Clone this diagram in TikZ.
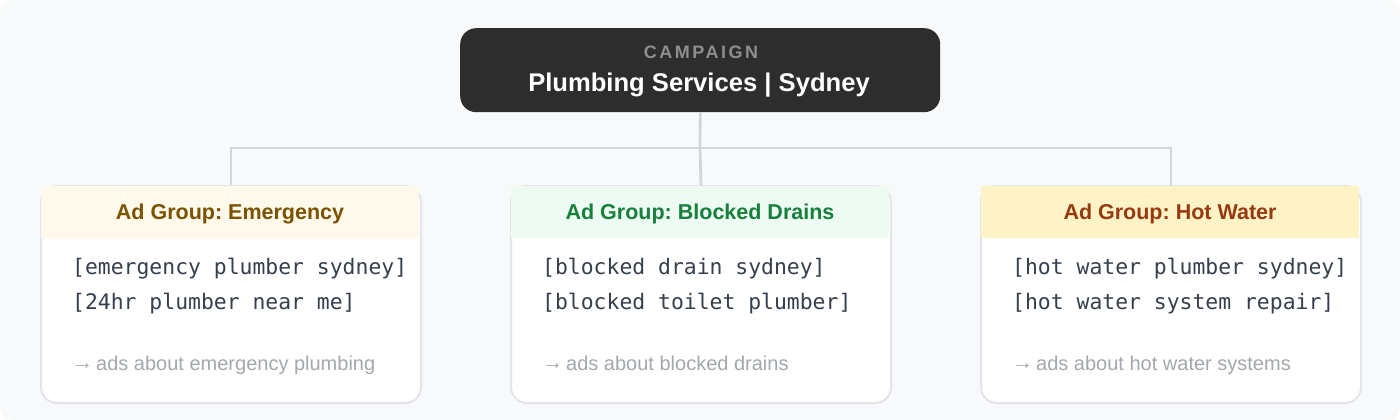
\documentclass[tikz,border=0pt]{standalone}
\usepackage{fontspec}
\setmainfont{Liberation Sans}
\newfontfamily\monof{DejaVu Sans Mono}
\newfontfamily\spacedf[LetterSpace=14]{Liberation Sans}
\frenchspacing
\definecolor{bgc}{HTML}{F8F9FB}
\definecolor{campfill}{HTML}{2D2D2D}
\definecolor{campgray}{HTML}{8E8E8E}
\definecolor{linec}{HTML}{D3D5DA}
\definecolor{cardborder}{HTML}{E3E5E9}
\definecolor{kwc}{HTML}{363F4D}
\definecolor{footc}{HTML}{A3A7AE}
\definecolor{hAfill}{HTML}{FFF9EC}
\definecolor{hAtext}{HTML}{7A5200}
\definecolor{hBfill}{HTML}{EEFBF2}
\definecolor{hBtext}{HTML}{17803D}
\definecolor{hCfill}{HTML}{FEF3C7}
\definecolor{hCtext}{HTML}{983A10}
\tikzset{
  cardbox/.style={draw=cardborder, line width=2pt, fill=white, rounded corners=16pt,
    minimum width=380pt, minimum height=217pt, inner sep=0pt, anchor=north west},
  conn/.style={draw=linec, line width=2.8pt},
  headtxt/.style={font=\fontsize{21.5}{25}\selectfont\bfseries, anchor=center},
  kw/.style={font=\monof\fontsize{21.4}{25}\selectfont, text=kwc, anchor=base west, inner sep=0pt},
  foot/.style={font=\fontsize{20}{24}\selectfont, text=footc, anchor=base west, inner sep=0pt},
}
\begin{document}
\begin{tikzpicture}[x=1pt,y=-1pt]
\useasboundingbox (0,0) rectangle (1400,420);
\fill[white] (0,0) rectangle (1400,420);
\fill[bgc, rounded corners=12pt] (0,0) rectangle (1400,420);
% campaign node
\node[fill=campfill, rounded corners=16pt, minimum width=480pt, minimum height=84pt, inner sep=0pt, anchor=north west] (camp) at (460,28) {};
\node[font=\spacedf\fontsize{18}{21}\selectfont\bfseries, text=campgray, anchor=base, inner sep=0pt] (campl) at (701,59) {CAMPAIGN};
\node[font=\fontsize{25.6}{30}\selectfont\bfseries, text=white, anchor=base, inner sep=0pt] (campt) at (699,92) {Plumbing Services | Sydney};
% cards
\node[cardbox] (c1) at (40,185) {};
\node[cardbox] (c2) at (510,185) {};
\node[cardbox] (c3) at (980,185) {};
\coordinate (j) at (700,148);
\draw[conn] (camp.south) -- (j);
\draw[conn] (j) -| (c1.north);
\draw[conn] (j) -| (c3.north);
\draw[conn] (j) -- (c2.north);
% headers
\fill[hAfill] (41,186) rectangle (419,238);
\fill[hBfill] (511,186) rectangle (889,238);
\fill[hCfill] (981,186) rectangle (1359,238);
\node[headtxt, text=hAtext] (h1) at (230,214) {Ad Group: Emergency};
\node[headtxt, text=hBtext] (h2) at (700,214) {Ad Group: Blocked Drains};
\node[headtxt, text=hCtext] (h3) at (1170,214) {Ad Group: Hot Water};
% keywords
\node[kw] (k11) at (72,274) {[emergency plumber sydney]};
\node[kw] (k12) at (72,309) {[24hr plumber near me]};
\node[kw] (k21) at (542,274) {[blocked drain sydney]};
\node[kw] (k22) at (542,309) {[blocked toilet plumber]};
\node[kw] (k31) at (1012,274) {[hot water plumber sydney]};
\node[kw] (k32) at (1012,309) {[hot water system repair]};
% footers
\node[foot] (f1) at (72,370) {\raisebox{1pt}{\fontsize{21}{24}\selectfont→}\hspace{3pt}ads about emergency plumbing};
\node[foot] (f2) at (542,370) {\raisebox{1pt}{\fontsize{21}{24}\selectfont→}\hspace{3pt}ads about blocked drains};
\node[foot] (f3) at (1012,370) {\raisebox{1pt}{\fontsize{21}{24}\selectfont→}\hspace{3pt}ads about hot water systems};
\end{tikzpicture}
\end{document}
